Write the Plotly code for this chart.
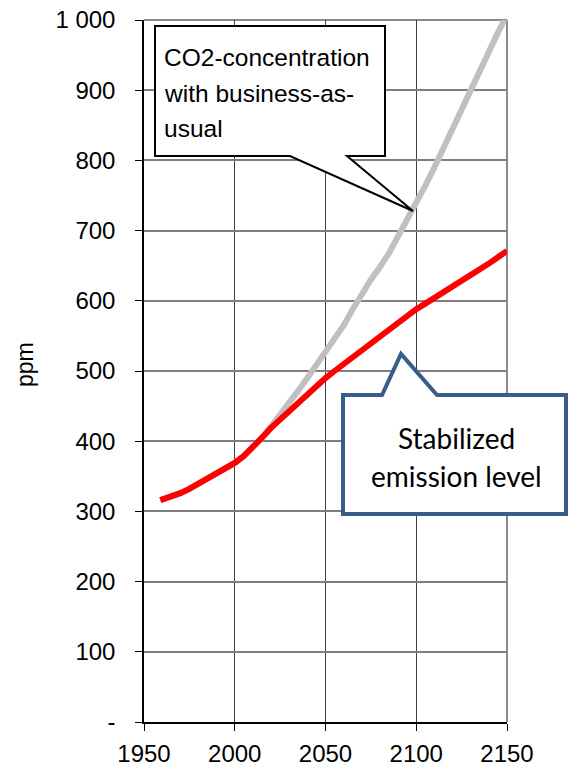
import plotly.graph_objects as go

# CO2 concentration, ppm
years = [1959, 1965, 1970, 1975, 1980, 1985, 1990, 1995, 2000, 2005, 2010, 2015,
         2020, 2025, 2030, 2035, 2040, 2045, 2050, 2055, 2060, 2065, 2070, 2075,
         2080, 2085, 2090, 2095, 2100, 2105, 2110, 2115, 2120, 2125, 2130, 2135,
         2140, 2145, 2150]
business_as_usual = [316, 321, 326, 332, 339, 346, 354, 361, 369, 379, 391, 405,
                     421, 437, 454, 472, 490, 509, 528, 547, 565, 588, 610, 630,
                     648, 668, 692, 715, 738, 764, 790, 818, 846, 874, 901, 930,
                     956, 982, 1008]
stabilized = [316, 321, 326, 332, 339, 346, 354, 361, 369, 379, 391, 405,
              419, 431, 443, 456, 468, 479, 490, 500, 510, 520, 530, 540,
              550, 560, 570, 579, 588, 596, 604, 611, 619, 627, 635, 644,
              653, 662, 671]

x_ticks = [1950, 2000, 2050, 2100, 2150]
y_ticks = [0, 100, 200, 300, 400, 500, 600, 700, 800, 900, 1000]
y_tick_text = ["-", "100", "200", "300", "400", "500", "600", "700", "800", "900", "1 000"]

W, H = 568, 778
L, R, T, B = 144, 507, 20, 722  # plot area in pixels


def paper(px, py):
    return (px - L) / (R - L), (B - py) / (B - T)


def path(points):
    pts = [paper(px, py) for px, py in points]
    return "M " + " L ".join(f"{x:.5f},{y:.5f}" for x, y in pts) + " Z"


fig = go.Figure()
fig.add_trace(go.Scatter(x=years, y=business_as_usual, mode="lines",
                         line=dict(color="#C0C0C0", width=6), showlegend=False))
fig.add_trace(go.Scatter(x=years, y=stabilized, mode="lines",
                         line=dict(color="#FF0000", width=6), showlegend=False))

axis_font = dict(family="Liberation Sans, Arial, sans-serif", size=24, color="#000000")

fig.update_layout(
    width=W, height=H,
    margin=dict(l=L, r=W - R, t=T, b=H - B, autoexpand=False),
    paper_bgcolor="white", plot_bgcolor="white",
    font=axis_font,
    xaxis=dict(range=[1950, 2150], tickvals=x_ticks, ticks="outside", ticklen=7,
               tickcolor="#000000", showline=True, linecolor="#000000", linewidth=1.5,
               showgrid=True, gridcolor="#404040", gridwidth=1, zeroline=False,
               tickfont=axis_font, ticklabelstandoff=2, automargin=False),
    yaxis=dict(range=[0, 1000], tickvals=y_ticks, ticktext=y_tick_text,
               ticks="outside", ticklen=7, tickcolor="#000000",
               showline=True, linecolor="#000000", linewidth=1.5,
               showgrid=True, gridcolor="#7f7f7f", gridwidth=1.5, zeroline=False,
               tickfont=axis_font, ticklabelstandoff=15, automargin=False),
)

# top and right frame
fig.add_shape(type="line", xref="paper", yref="paper", x0=0, x1=1, y0=1, y1=1,
              line=dict(color="#8a8a8a", width=2), layer="below")
fig.add_shape(type="line", xref="paper", yref="paper", x0=1, x1=1, y0=0, y1=1,
              line=dict(color="#8a8a8a", width=2), layer="below")

# callout: business-as-usual
fig.add_shape(type="path", xref="paper", yref="paper",
              path=path([(155, 26), (385, 26), (385, 156), (347, 156), (413, 211),
                         (290, 156), (155, 156)]),
              fillcolor="white", line=dict(color="#000000", width=2))
for txt, base in [("CO2-concentration", 66), ("with business-as-", 101), ("usual", 136)]:
    x, y = paper(162, base - 8)
    fig.add_annotation(x=x, y=y, xref="paper", yref="paper", text=txt, showarrow=False,
                       xanchor="left", yanchor="middle",
                       font=dict(family="Liberation Sans, Arial, sans-serif", size=24.5,
                                 color="#000000"))

# callout: stabilized emission level
fig.add_shape(type="path", xref="paper", yref="paper",
              path=path([(343, 395), (382, 395), (401, 354), (437, 395), (566, 395),
                         (566, 514), (343, 514)]),
              fillcolor="white", line=dict(color="#385D8A", width=4))
for txt, base in [("Stabilized", 448), ("emission level", 486)]:
    x, y = paper(456, base - 10)
    fig.add_annotation(x=x, y=y, xref="paper", yref="paper", text=txt, showarrow=False,
                       xanchor="center", yanchor="middle",
                       font=dict(family="Lato, Carlito, sans-serif", size=28,
                                 color="#000000"))

# y-axis title
x, y = paper(25, 365)
fig.add_annotation(x=x, y=y, xref="paper", yref="paper", text="ppm", showarrow=False,
                   textangle=-90, xanchor="center", yanchor="middle",
                   font=dict(family="Liberation Sans, Arial, sans-serif", size=23,
                             color="#000000"))

fig.write_html("out.html")
